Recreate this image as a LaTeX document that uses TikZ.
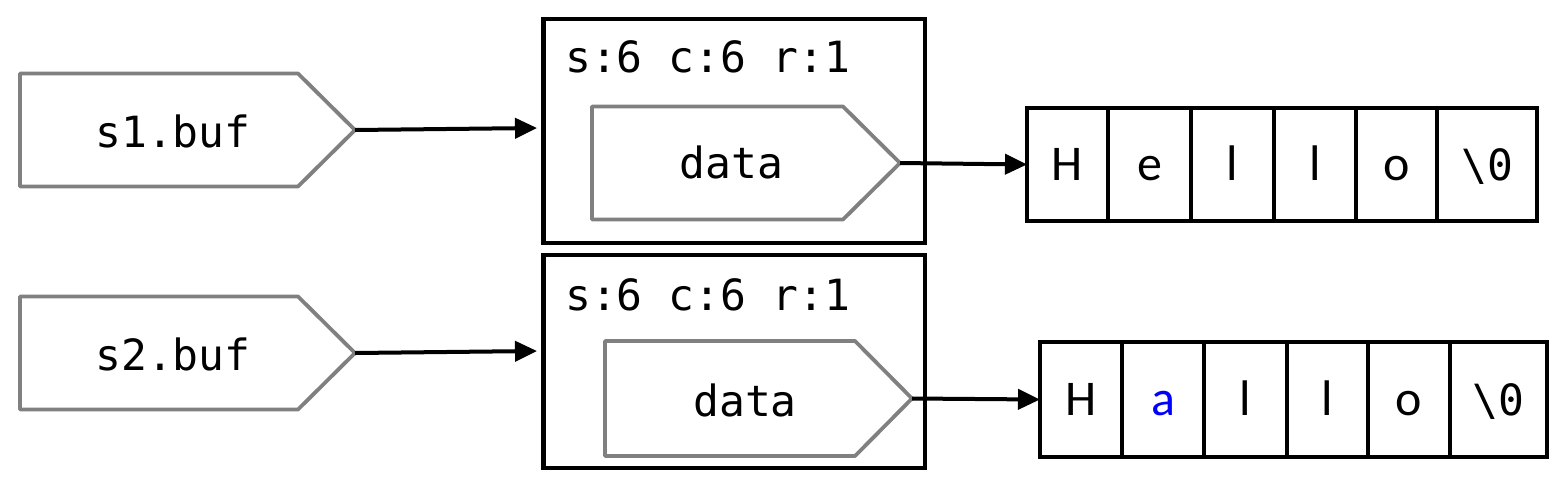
\documentclass[tikz,border=0pt]{standalone}
\usepackage{fontspec}
\setmonofont{DejaVu Sans Mono}
\newfontfamily\cellfont{Carlito}
\usetikzlibrary{arrows.meta}
\definecolor{pgray}{RGB}{128,128,128}
\definecolor{hlblue}{RGB}{0,0,255}
\tikzset{
  ptr/.style={draw=pgray, line width=3.8pt, fill=white, line join=round},
  mono/.style={font=\ttfamily\fontsize{43}{50}\selectfont, inner sep=0pt},
  outerbox/.style={draw=black, line width=4.2pt, inner sep=0pt, outer sep=0pt, minimum width=381.5pt},
  cellbox/.style={draw=black, line width=4.2pt, inner sep=0pt, outer sep=0pt, text height=32pt, text depth=0pt},
  celltxt/.style={font=\cellfont\fontsize{50}{56}\selectfont},
  celltt/.style={font=\ttfamily\fontsize{43}{50}\selectfont},
  link/.style={draw=black, line width=4pt, -{Triangle[length=22pt,width=20pt]}}
}
\begin{document}
\begin{tikzpicture}[x=1pt,y=-1pt]
\useasboundingbox[fill=white] (0,0) rectangle (1557,480);

% ---------- row 1 ----------
\draw[ptr] (20,73.5) -- (298,73.5) -- (355,130) -- (298,186.5) -- (20,186.5) -- cycle;
\coordinate (s1tip) at (355,130);
\node[mono, anchor=base] (s1lbl) at (173,147) {s1.buf};

\node[outerbox, minimum height=224pt] (box1) at (734.25,131) {};
\node[mono, anchor=base west] (meta1) at (565,72.5) {s:6 c:6 r:1};
\draw[ptr] (592,106.5) -- (843,106.5) -- (900,163) -- (843,219.5) -- (592,219.5) -- cycle;
\coordinate (d1tip) at (900,163);
\node[mono, anchor=base] (d1lbl) at (731.5,178) {data};
\coordinate (box1in) at (537,128);

\node[cellbox, minimum width=81pt, minimum height=113pt, celltxt] (a1) at (1067.5,164.5) {H};
\node[cellbox, minimum width=83pt, minimum height=113pt, celltxt] (a2) at (1149.5,164.5) {e};
\node[cellbox, minimum width=83pt, minimum height=113pt, celltxt] (a3) at (1232.5,164.5) {l};
\node[cellbox, minimum width=82pt, minimum height=113pt, celltxt] (a4) at (1315,164.5) {l};
\node[cellbox, minimum width=81pt, minimum height=113pt, celltxt] (a5) at (1396.5,164.5) {o};
\node[cellbox, minimum width=100pt, minimum height=113pt, celltt] (a6) at (1487,164.5) {\textbackslash 0};

\draw[link] (s1tip) -- (box1in);
\draw[link] (d1tip) -- (a1.west);

% ---------- row 2 ----------
\draw[ptr] (20,296.5) -- (298,296.5) -- (355,353) -- (298,409.5) -- (20,409.5) -- cycle;
\coordinate (s2tip) at (355,353);
\node[mono, anchor=base] (s2lbl) at (173,370) {s2.buf};

\node[outerbox, minimum height=213pt] (box2) at (734.25,361.5) {};
\node[mono, anchor=base west] (meta2) at (565,310) {s:6 c:6 r:1};
\draw[ptr] (605,341) -- (855,341) -- (912,398.5) -- (855,456) -- (605,456) -- cycle;
\coordinate (d2tip) at (912,398.5);
\node[mono, anchor=base] (d2lbl) at (745,416) {data};
\coordinate (box2in) at (537,351);

\node[cellbox, minimum width=82pt, minimum height=115pt, celltxt] (b1) at (1081,399.5) {H};
\node[cellbox, minimum width=82pt, minimum height=115pt, celltxt, text=hlblue] (b2) at (1163,399.5) {a};
\node[cellbox, minimum width=83pt, minimum height=115pt, celltxt] (b3) at (1245.5,399.5) {l};
\node[cellbox, minimum width=81pt, minimum height=115pt, celltxt] (b4) at (1327.5,399.5) {l};
\node[cellbox, minimum width=82pt, minimum height=115pt, celltxt] (b5) at (1409,399.5) {o};
\node[cellbox, minimum width=97pt, minimum height=115pt, celltt] (b6) at (1498.5,399.5) {\textbackslash 0};

\draw[link] (s2tip) -- (box2in);
\draw[link] (d2tip) -- (b1.west);
\end{tikzpicture}
\end{document}
